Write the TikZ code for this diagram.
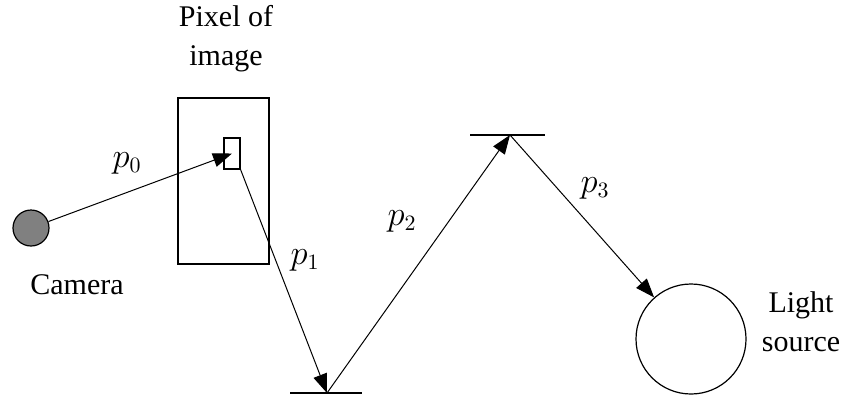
\documentclass[tikz,border=0pt]{standalone}
\usepackage{fontspec}
\setmainfont{Liberation Serif}
\usepackage{tikz}
\usetikzlibrary{arrows.meta}
\definecolor{camGray}{HTML}{808080}
\tikzset{
  boxshape/.style={draw=black, line width=0.6pt, inner sep=0pt, minimum size=0pt},
  rayarr/.style={-{Triangle[length=9.5pt,width=7pt]}, line width=0.5pt},
  surface/.style={line width=0.6pt},
  lbl/.style={font=\fontsize{15}{19.5}\selectfont, align=center},
  plbl/.style={font=\fontsize{16}{18}\selectfont}
}

\begin{document}
\begin{tikzpicture}[x=0.5pt, y=-0.5pt]
\useasboundingbox (0,0) rectangle (844,397);
% camera and image plane
\node[circle, boxshape, fill=camGray, minimum size=18pt] (cam) at (31,228) {};
\node[boxshape, minimum width=45.5pt, minimum height=83pt] (frame) at (223.5,181) {};
\node[boxshape, minimum width=8pt, minimum height=15.5pt] (pix) at (232,153.5) {};
% light source
\node[circle, boxshape, minimum size=55pt] (light) at (691,339) {};
% reflecting surfaces
\coordinate (b1) at (327,393);
\coordinate (b2) at (510,135);
\draw[surface] (290,393) -- (362,393);
\draw[surface] (470,135) -- (545,135);
% rays
\draw[rayarr] (cam) -- (pix.center);
\draw[rayarr] (pix.south east) -- (b1);
\draw[rayarr] (b1) -- (b2);
\draw[rayarr] (b2) -- (light);
% labels
\node[lbl] (camlbl) at (77,285) {Camera};
\node[lbl] (pixlbl) at (226,39) {Pixel of\\image};
\node[lbl] (lightlbl) at (801,322) {Light\\source};
\node[plbl] (p0) at (127,163) {$p_0$};
\node[plbl] (p1) at (305,260) {$p_1$};
\node[plbl] (p2) at (402,221) {$p_2$};
\node[plbl] (p3) at (595,188) {$p_3$};
\end{tikzpicture}
\end{document}
